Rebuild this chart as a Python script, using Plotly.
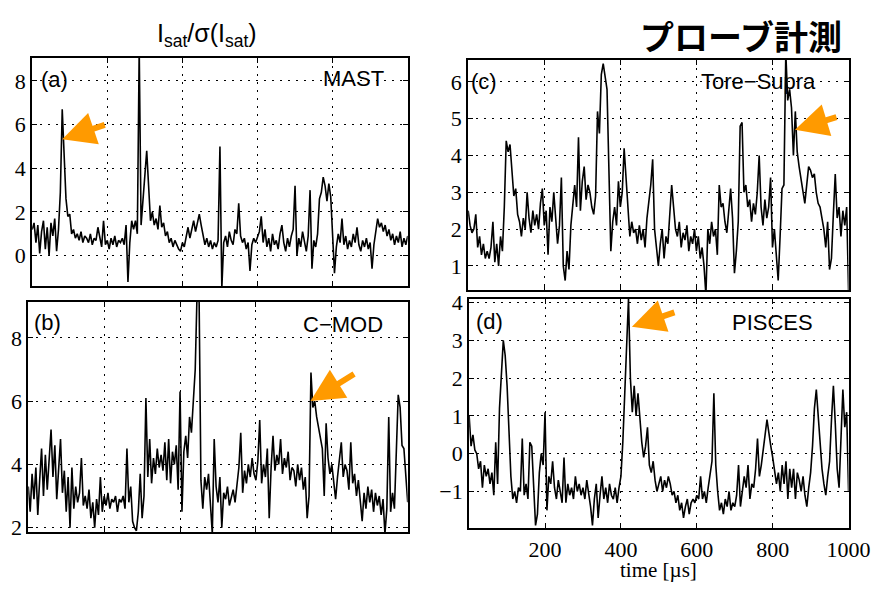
import plotly.graph_objects as go

time_us = list(range(0, 1001, 5))

mast = [1.2, 1.5, 0.6, 1.4, 0.1, 1.1, 1.6, 0.3, 1.3, 0.0,
        1.5, 0.9, 1.7, 0.2, 1.2, 2.9, 6.7, 4.5, 2.6, 1.8,
        1.9, 1.0, 1.2, 0.8, 1.0, 0.7, 1.1, 0.6, 0.9, 0.8,
        0.6, 1.0, 0.5, 0.8, 0.7, 1.3, 0.9, 0.4, 1.6, 0.5,
        0.7, 0.3, 0.8, 0.5, 0.9, 0.4, 0.7, 0.6, 0.8, 0.5,
        1.4, -1.2, 0.6, 1.6, 1.2, 1.6, 1.0, 9.5, 1.4, 2.5,
        3.6, 4.8, 3.2, 1.6, 2.0, 1.4, 1.7, 1.2, 2.3, 1.3,
        1.5, 0.9, 1.1, 0.6, 0.8, 0.4, 0.7, 0.5, 0.3, 0.2,
        0.6, 0.4, 0.9, 1.3, 0.8, 1.2, 1.6, 1.1, 1.5, 1.9,
        1.4, 1.0, 0.5, 0.8, 0.4, 0.7, 0.3, 0.6, 0.4, 0.7,
        5.0, -1.5, 0.6, 0.9, 0.4, 1.1, 0.7, 0.5, 1.2, 1.0,
        2.4, 0.9, 0.6, 0.8, 0.3, 0.6, -0.7, 0.5, 0.8, 0.6,
        0.9, 1.1, 1.8, 0.6, 1.2, 0.4, 0.8, 0.2, 1.0, 0.5,
        0.7, 0.3, 1.0, 1.4, 0.6, 0.2, 0.8, 0.4, 0.9, 1.2,
        3.2, 0.0, 0.8, 0.4, 1.1, 0.6, 0.2, 0.9, 3.0, -0.6,
        0.7, 0.4, 1.0, 2.6, 2.9, 3.6, 3.2, 2.5, 3.3, 2.7,
        1.0, -0.8, 0.4, 1.0, 0.6, 1.7, 0.5, 0.9, 0.3, 0.7,
        0.4, 1.0, 0.6, 1.3, 0.5, 0.2, 0.7, 0.4, 0.8, 0.3,
        0.6, -0.6, 0.5, 1.0, 1.7, 1.3, 1.5, 1.1, 1.4, 0.9,
        1.2, 0.7, 1.0, 0.5, 0.9, 0.6, 1.1, 0.4, 0.8, 0.5,
        0.9]

cmod = [3.3, 2.5, 3.7, 2.9, 3.9, 2.4, 3.5, 4.5, 3.0, 4.3,
        3.2, 4.1, 5.1, 3.6, 4.6, 2.9, 4.0, 4.8, 3.1, 3.8,
        2.5, 3.6, 2.0, 3.9, 2.6, 3.3, 2.8, 3.1, 4.2, 2.7,
        3.0, 2.6, 3.2, 2.3, 2.8, 2.0, 2.9, 2.4, 3.6, 2.5,
        3.0, 2.7, 3.1, 2.6, 2.9, 2.8, 3.0, 2.5, 2.9, 2.8,
        3.0, 2.6, 4.5, 2.8, 3.3, 2.2, 2.0, 1.9, 2.5, 3.7,
        2.3, 3.0, 6.1, 3.6, 4.8, 3.4, 4.2, 3.7, 4.5, 3.9,
        4.3, 3.8, 4.7, 3.5, 4.8, 3.4, 4.4, 4.0, 4.6, 3.2,
        6.3, 2.5, 4.4, 4.9, 4.2, 5.5, 5.0, 6.0, 7.0, 9.5,
        9.5, 3.5, 2.6, 3.6, 3.2, 3.7, 2.8, 1.8, 4.8, 3.3,
        2.8, 3.6, 2.0, 3.1, 2.9, 3.3, 2.7, 3.0, 3.2, 2.8,
        3.4, 3.9, 5.0, 3.1, 3.8, 3.4, 4.0, 3.6, 4.2, 3.7,
        3.5, 4.1, 5.4, 3.4, 4.0, 3.6, 4.5, 2.3, 3.9, 4.9,
        3.8, 4.3, 4.0, 4.8, 3.7, 4.2, 3.9, 4.4, 3.5, 3.9,
        3.8, 3.3, 4.0, 3.5, 3.9, 3.2, 3.6, 2.3, 3.0, 6.9,
        5.8, 6.0, 5.5, 5.2, 4.9, 4.5, 3.0, 5.3, 4.2, 3.7,
        4.0, 3.5, 2.9, 3.6, 4.1, 4.7, 3.6, 4.0, 3.8, 3.2,
        4.7, 3.4, 3.7, 3.0, 3.5, 2.7, 2.2, 3.1, 2.6, 3.3,
        2.8, 3.2, 2.5, 3.1, 2.7, 3.0, 2.4, 2.9, 1.8, 2.6,
        5.5, 2.5, 3.1, 2.6, 4.8, 6.2, 5.8, 4.6, 4.5, 3.5,
        2.8]

tore_supra = [2.5, 2.1, 1.9, 2.0, 2.4, 1.5, 1.8, 1.3, 1.6, 1.2,
              1.4, 1.2, 1.5, 2.2, 1.1, 1.6, 1.0, 1.8, 1.4, 2.6,
              4.4, 4.1, 4.3, 3.6, 2.9, 3.1, 2.4, 2.2, 1.8, 2.3,
              2.0, 3.0, 2.3, 1.9, 2.5, 2.1, 2.4, 2.0, 2.7, 3.1,
              2.1, 2.5, 1.3, 2.6, 2.2, 3.0, 2.4, 1.6, 2.1, 3.4,
              1.0, 0.6, 1.4, 0.9, 2.1, 2.7, 3.2, 2.6, 4.5, 2.5,
              3.3, 3.7, 2.8, 3.2, 3.0, 2.6, 2.4, 2.9, 5.2, 4.6,
              6.2, 6.5, 6.1, 5.8, 3.6, 1.4, 2.2, 2.6, 2.1, 3.3,
              2.6, 3.0, 4.2, 3.3, 2.4, 1.8, 2.2, 1.9, 2.0, 1.6,
              2.1, 1.7, 2.0, 1.5, 2.3, 2.7, 3.2, 3.9, 2.0, 1.5,
              1.0, 1.6, 2.0, 1.2, 1.8, 1.6, 2.4, 3.2, 2.6, 2.0,
              1.8, 2.2, 1.5, 1.9, 1.7, 2.1, 1.4, 1.8, 1.6, 2.0,
              1.4, 1.8, 1.2, 1.5, 1.0, 0.2, 2.0, 1.6, 2.2, 1.8,
              2.0, 1.3, 3.2, 2.6, 2.7, 2.2, 1.9, 2.6, 3.1, 2.3,
              0.8, 1.4, 2.2, 4.8, 4.9, 3.0, 3.2, 2.6, 2.8, 2.2,
              2.7, 2.4, 3.0, 4.0, 2.6, 2.1, 2.8, 2.3, 2.6, 3.4,
              1.5, 2.0, 1.2, 0.6, 1.8, 3.1, 3.2, 6.8, 5.5, 5.8,
              5.3, 4.0, 5.2, 4.1, 3.7, 3.4, 3.0, 2.7, 3.2, 3.7,
              3.6, 3.4, 3.5, 3.0, 2.7, 2.6, 2.3, 2.0, 1.5, 2.2,
              0.9, 1.2, 2.4, 3.5, 2.3, 2.6, 1.8, 2.5, 2.1, 2.6,
              0.3]

pisces = [1.0, 0.2, 0.5, 0.1, 0.0, -0.4, -0.2, -0.9, -0.3, -0.6,
          -0.4, -0.8, -0.5, -1.1, 0.3, -0.8, 1.2, 2.3, 3.0, 2.6,
          1.8, 0.6, -0.6, -1.2, -1.0, -1.3, -0.9, -1.0, 0.4, -1.1,
          -0.8, -1.2, 0.3, 0.2, -1.0, -1.9, -1.6, -0.5, 0.0, -0.3,
          1.1, -1.5, -0.6, -0.8, -0.2, -0.9, -1.2, -0.7, -1.0, -1.3,
          -0.1, -1.3, -0.8, -1.1, -0.9, -1.2, -0.6, -1.0, -0.8, -1.1,
          -0.9, -1.2, -0.7, -1.0, -1.4, -1.9, -1.2, -0.8, -1.7, -1.1,
          -0.6, -1.2, -0.9, -1.3, -0.8, -1.1, -1.2, -0.9, -1.3, -0.9,
          -0.6, 0.3, 1.6, 3.0, 4.1, 2.0, 1.1, 1.8, 1.0, 1.6,
          0.8, 0.3, -0.1, 0.2, 0.7, -0.3, -0.5, -0.2, -0.7, -1.0,
          -0.8, -0.6, -1.0, -0.7, -0.9, -0.6, -0.8, -1.1, -1.0, -1.3,
          -1.1, -1.5, -1.3, -1.7, -1.4, -1.2, -1.6, -1.3, -1.2, -1.3,
          -1.1, -1.2, -0.6, -1.2, -1.0, -1.3, -0.9, -0.5, -0.2, 1.6,
          -0.3, -1.0, -1.5, -1.3, -1.6, -1.2, -1.4, -1.0, -1.5, -1.3,
          -1.4, -1.1, -0.3, -1.4, -1.0, -0.6, -0.9, -0.3, -1.2, -0.8,
          -0.9, -0.4, 0.4, -0.6, -0.3, 0.2, 0.5, 0.9, 0.5, 0.2,
          -0.1, -0.4, -0.8, -0.5, -1.0, -0.3, -0.8, -0.2, -1.2, -0.4,
          -0.9, -0.4, -1.2, -0.5, -0.7, -1.0, -0.6, -1.1, -1.4, -0.9,
          -0.5, 0.2, 1.2, 1.7, 1.0, 0.5, -0.4, -0.8, -1.1, -0.6,
          -0.2, 0.9, 1.8, 0.8, -0.4, -0.9, 0.6, 1.7, 0.7, 1.1,
          -1.0]

panel_names = ["MAST", "C\u2212MOD", "Tore\u2212Supra", "PISCES"]
panel_tags = ["(a)", "(b)", "(c)", "(d)"]
series = [mast, cmod, tore_supra, pisces]
y_ranges = [[-1.4, 9.07], [1.85, 9.14], [0.34, 6.61], [-1.98, 4.1]]
y_ticks = [[0, 2, 4, 6, 8], [2, 4, 6, 8], [1, 2, 3, 4, 5, 6], [-1, 0, 1, 2, 3, 4]]
x_ticks = [200, 400, 600, 800, 1000]
# arrow tips (time, value) and tail offsets in px
arrow_tips = [(80, 5.33), (744, 6.0), (859, 4.7), (429, 3.36)]
arrow_offsets = [(44, -15), (45, -28), (43, -13), (44, -15)]

W, H = 893, 589
# panel boxes in pixels: left, right, top, bottom
boxes = [(33, 418, 51, 286), (29, 418, 302, 539), (480, 870, 53, 290), (481, 870, 299, 535)]
# label centres in pixels: tag (x, y), name (x, y)
tag_pos = [(56, 73), (49, 323), (496, 76), (502, 322)]
name_pos = [(362, 72), (352, 325), (778, 76), (792, 323)]

fig = go.Figure()
tick_font = dict(family="Liberation Serif", size=22, color="black")
label_font = dict(family="Liberation Sans", size=22, color="black")

for i, (vals, box) in enumerate(zip(series, boxes)):
    n = i + 1
    xa = "x" if n == 1 else f"x{n}"
    ya = "y" if n == 1 else f"y{n}"
    fig.add_trace(go.Scatter(x=time_us, y=vals, mode="lines",
                             line=dict(color="black", width=1.6),
                             xaxis=xa, yaxis=ya, showlegend=False))
    l, r, t, b = box
    xdom = [l / W, r / W]
    ydom = [1 - b / H, 1 - t / H]
    common = dict(showline=True, linecolor="black", linewidth=2, mirror="ticks",
                  ticks="inside", ticklen=5, tickcolor="black", tickwidth=1,
                  showgrid=True, gridcolor="black", gridwidth=1, griddash="2px,6px",
                  zeroline=False, tickfont=tick_font)
    xkey = "xaxis" if n == 1 else f"xaxis{n}"
    ykey = "yaxis" if n == 1 else f"yaxis{n}"
    fig.update_layout(**{
        xkey: dict(domain=xdom, range=[0, 1000], anchor=ya, tickvals=x_ticks,
                   showticklabels=(n == 4), **common),
        ykey: dict(domain=ydom, range=y_ranges[i], anchor=xa, tickvals=y_ticks[i],
                   **common),
    })
    fig.add_annotation(xref="paper", yref="paper", x=tag_pos[i][0] / W, y=1 - tag_pos[i][1] / H,
                       text=panel_tags[i], showarrow=False, xanchor="center",
                       yanchor="middle", font=label_font)
    fig.add_annotation(xref="paper", yref="paper", x=name_pos[i][0] / W, y=1 - name_pos[i][1] / H,
                       text=panel_names[i], showarrow=False, xanchor="center",
                       yanchor="middle", font=label_font)
    tx, tyv = arrow_tips[i]
    axo, ayo = arrow_offsets[i]
    fig.add_annotation(xref=xa, yref=ya, x=tx, y=tyv, ax=axo, ay=ayo,
                       axref="pixel", ayref="pixel", text="", showarrow=True,
                       arrowhead=2, arrowsize=1.1, arrowwidth=6,
                       arrowcolor="#FF9A00")

fig.add_annotation(xref="paper", yref="paper", x=212 / W, y=1 - 28 / H,
                   text="I<sub>sat</sub>/σ(I<sub>sat</sub>)", showarrow=False,
                   xanchor="center", yanchor="middle",
                   font=dict(family="Liberation Sans", size=25, color="black"))
fig.add_annotation(xref="paper", yref="paper", x=760 / W, y=1 - 28 / H,
                   text="<b>プローブ計測</b>", showarrow=False,
                   xanchor="center", yanchor="middle",
                   font=dict(family="Noto Sans CJK JP", size=34, color="black"))
fig.add_annotation(xref="paper", yref="paper", x=675 / W, y=1 - 578 / H,
                   text="time [µs]", showarrow=False,
                   xanchor="center", yanchor="middle",
                   font=dict(family="Liberation Serif", size=21, color="black"))

fig.update_layout(width=W, height=H, margin=dict(l=0, r=0, t=0, b=0),
                  paper_bgcolor="white", plot_bgcolor="white")

fig.write_html("out.html",
               post_script="document.body.style.margin='0';document.body.style.overflow='hidden';")
